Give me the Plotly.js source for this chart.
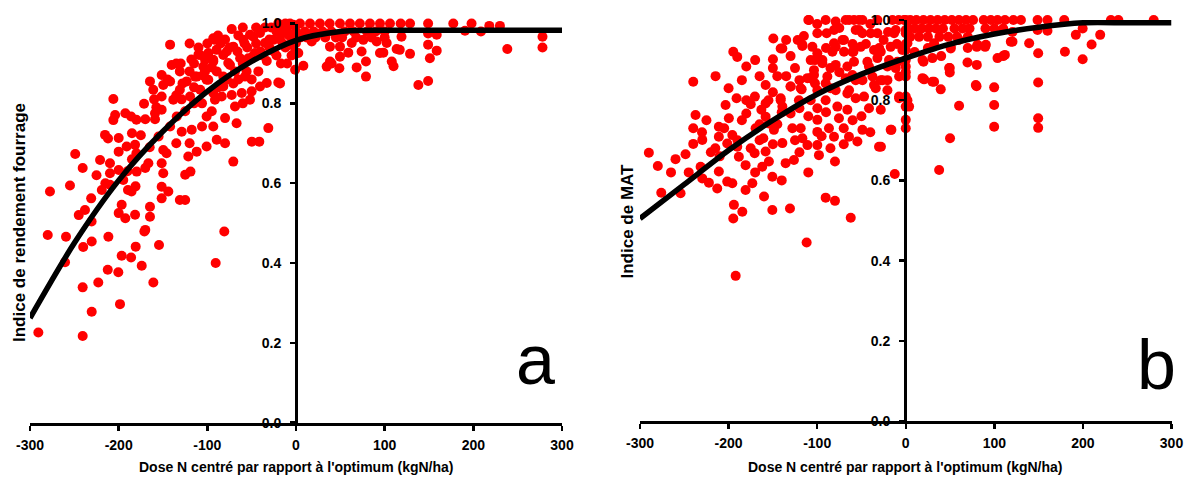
<!DOCTYPE html>
<html>
<head>
<meta charset="utf-8">
<script src="https://cdn.plot.ly/plotly-3.0.1.min.js"></script>
<style>html,body{margin:0;padding:0;background:#fff;}#chart{width:1186px;height:479px;}</style>
</head>
<body>
<div id="chart"></div>
<script>
// ---- Panel a : Indice de rendement fourrage ----
const ptsA = [
[-290.6,0.226],[-280,0.47],[-277.5,0.579],[-259.4,0.466],[-260.5,0.402],[-254.9,0.594],[-249,0.673],[-240.6,0.638],[-240,0.44],[-240.6,0.339],[-240.6,0.217],[-238,0.533],[-231,0.562],[-230.5,0.504],[-230.4,0.454],[-230.4,0.278],[-223,0.351],[-221,0.658],[-219,0.583],[-215.4,0.721],[-212,0.712],[-211.6,0.466],[-212.3,0.383],[-209.8,0.65],[-209.8,0.625],[-209.8,0.596],[-206,0.811],[-204,0.771],[-206,0.758],[-200,0.713],[-200,0.679],[-200,0.633],[-200,0.525],[-200.4,0.377],[-198.5,0.297],[-196.6,0.418],[-196.6,0.546],[-194.8,0.608],[-192.5,0.512],[-192.5,0.775],[-191,0.692],[-189.5,0.583],[-186,0.767],[-186,0.414],[-185.5,0.579],[-185,0.725],[-181.5,0.696],[-181.5,0.521],[-181,0.592],[-180.8,0.441],[-180,0.759],[-180,0.675],[-179.7,0.629],[-174,0.393],[-171.4,0.799],[-171,0.479],[-170,0.638],[-170,0.483],[-166.5,0.65],[-164.7,0.855],[-164.7,0.541],[-164.7,0.516],[-161,0.834],[-160.9,0.351],[-159,0.775],[-159,0.76],[-157.5,0.79],[-155,0.717],[-154.5,0.445],[-151.5,0.871],[-149.7,0.846],[-151.5,0.817],[-151.5,0.784],[-149.7,0.683],[-151.5,0.65],[-149.7,0.625],[-151.5,0.591],[-151.5,0.562],[-146,0.675],[-144,0.579],[-142,0.947],[-140.2,0.896],[-142,0.855],[-138.4,0.809],[-142,0.742],[-134.5,0.767],[-131,0.88],[-131,0.834],[-129,0.81],[-128.9,0.729],[-131,0.558],[-125,0.558],[-125,0.621],[-123.3,0.855],[-121.5,0.667],[-119,0.629],[-119.5,0.817],[-117.6,0.734],[-113.9,0.867],[-112,0.679],[-112,0.867],[-110,0.922],[-108,0.834],[-108,0.921],[-106,0.8],[-106,0.742],[-104.5,0.892],[-102.6,0.909],[-102.6,0.88],[-100.8,0.859],[-100.8,0.767],[-100.8,0.692],[-98.9,0.926],[-98.9,0.859],[-93.3,0.905],[-93.3,0.963],[-93.3,0.909],[-93.3,0.826],[-93.3,0.742],[-91.4,0.959],[-89.6,0.934],[-91.4,0.809],[-90.6,0.4],[-89.4,0.88],[-89.4,0.709],[-82,0.867],[-82,0.921],[-82,0.842],[-83.8,0.817],[-80,0.763],[-80,0.7],[-80.9,0.479],[-76.4,0.901],[-74.4,0.896],[-72.5,0.986],[-72.5,0.821],[-70.7,0.942],[-70.7,0.85],[-70.7,0.654],[-68.8,0.88],[-68.8,0.792],[-67,0.75],[-63,0.913],[-61.2,0.826],[-59.4,0.959],[-57.5,0.867],[-55.7,0.88],[-53.8,0.913],[-51.9,0.809],[-51.9,0.972],[-50,0.83],[-48.1,0.967],[-49.8,0.704],[-46.2,0.926],[-42.5,0.88],[-41.4,0.704],[-40.6,0.842],[-40.6,0.976],[-35,0.951],[-33,0.906],[-33,0.851],[-31.2,0.738],[-25.6,0.959],[-20,0.852],[-14.3,0.984],[-14.3,0.976],[-6.8,0.947],[-6.8,0.997],[-3,0.997],[-1,0.884],[-1,0.93],[-18,0.85],
[-120,0.95],[-115,0.9],[-85,0.95],[-78,0.93],[-65,0.97],[-55,0.94],[-45,0.95],[-38,0.92],[-30,0.94],[-28,0.99],[-22,0.92],[-18,0.96],[-12,0.94],[-10,0.9],[-8,0.97],[-20,1.0],[-35,0.99],[-45,0.99],[-60,0.99],[-12,1.0],[-2,0.96],[-95,0.89],[-120,0.88],[-135,0.9],[-145,0.86],[-128,0.85],[-115,0.84],[-105,0.87],[-60,0.9],[-25,0.93],[-17,0.9],
[-130,0.9],[-118,0.91],[-110,0.94],[-100,0.95],[-88,0.97],[-80,0.96],[-75,0.94],[-66,0.93],[-58,0.95],[-48,0.92],[-40,0.93],[-30,0.96],[-22,0.98],[-15,0.95],[-5,0.92],[-50,0.86],[-65,0.86],[-78,0.86],[-88,0.84],[-115,0.8],[-125,0.78],[-135,0.82],[-160,0.81],[-170,0.76],[-175,0.72],[-165,0.69],[-185,0.66],[-190,0.63],[-215,0.6],[-225,0.62],[-245,0.52],[-135,0.7],[-120,0.7],[-95,0.78],[-60,0.8],
[0.8,0.926],[8.3,0.894],[2.6,0.926],[0,0.951],[17.7,0.955],[34.6,0.892],[38.3,0.905],[38.3,0.942],[40.2,0.9],[48.9,0.888],[49.6,0.917],[49.6,0.942],[59,0.927],[62.8,0.951],[68.4,0.89],[74,0.93],[75.9,0.959],[78.9,0.867],[78.9,0.905],[91,0.955],[94.7,0.926],[98.5,0.927],[102.3,0.951],[108,0.905],[110,0.893],[113.5,0.936],[117,0.934],[118,1.0],[119,0.967],[128.6,0.924],[128.6,1.0],[138,0.846],[149,0.856],[151,0.913],[149,0.947],[158.7,0.932],[158.7,0.972],[149,1.0],[149,0.975],[177.4,1.0],[190.6,0.982],[198,1.0],[208.6,0.98],[218,0.994],[230,0.994],[238.3,0.936],[278,0.967],[278,0.94],
[-6.8,1.0],[4.5,1.0],[15.8,1.0],[27,1.0],[38,1.0],[49.6,1.0],[60.9,1.0],[72,1.0],[83.4,1.0],[94.7,1.0],[106,1.0],
[-10,0.98],[0,0.98],[10,0.98],[20,0.98],[30,0.98],[40,0.98],[55,0.98],[65,0.98],[80,0.98],[90,0.98],[100,0.98],
[-5,0.965],[5,0.965],[12,0.965],[22,0.965],[33,0.965],[45,0.965],[52,0.965],[68,0.965],[85,0.965],[100,0.965]
];
const curveAx = [-300,-250,-200,-150,-100,-50,0,50,100,150,200,250,300];
const curveAy = [0.262,0.45,0.607,0.73,0.83,0.905,0.958,0.98,0.983,0.983,0.983,0.983,0.983];

// ---- Panel b : Indice de MAT ----
const ptsB = [
[-290,0.669],[-279.9,0.636],[-276,0.569],[-259.9,0.653],[-254.2,0.568],[-248.6,0.665],[-239.9,0.846],[-237.3,0.763],[-239.9,0.73],[-239.9,0.691],[-229.7,0.701],[-231.6,0.634],[-229.7,0.605],[-222.2,0.594],[-214.7,0.86],[-211,0.622],[-211,0.709],[-211,0.734],[-203.4,0.788],[-199.7,0.755],[-195.8,0.713],[-201.5,0.692],[-201.5,0.597],[-212.8,0.58],[-195.8,0.593],[-194,0.539],[-194.7,0.505],[-184.5,0.522],[-194.7,0.921],[-190.2,0.908],[-180,0.884],[-191,0.805],[-180,0.8],[-180,0.767],[-190.2,0.684],[-188.4,0.659],[-180.8,0.638],[-180.8,0.576],[-173.2,0.593],[-170.3,0.809],[-169.5,0.73],[-170.6,0.668],[-162,0.634],[-163,0.776],[-158.2,0.838],[-158.2,0.792],[-158.2,0.759],[-154.5,0.742],[-160.8,0.705],[-158.2,0.672],[-154.5,0.647],[-150.6,0.609],[-150.6,0.526],[-149.5,0.954],[-149.9,0.902],[-141.2,0.929],[-148.8,0.726],[-139.3,0.693],[-141.2,0.8],[-139.3,0.784],[-135.6,0.643],[-130.7,0.53],[-130,0.834],[-130,0.767],[-128,0.73],[-126.2,0.651],[-120.6,0.8],[-118.6,0.73],[-116.7,0.705],[-116.7,0.938],[-117.5,0.827],[-111,0.688],[-110,1.0],[-108,0.855],[-105.4,0.933],[-102.5,0.9],[-103.6,0.875],[-102.5,0.842],[-99.8,0.967],[-99.8,0.78],[-99.8,0.751],[-99.8,0.721],[-99.8,0.688],[-98,0.663],[-90.4,1.0],[-89.3,0.967],[-94.1,0.9],[-90.4,0.842],[-90.4,0.8],[-86.7,0.73],[-81,0.709],[-79.9,0.647],[-90.4,0.557],[-79.9,0.549],[-62.1,0.507],[-81,0.975],[-79.1,0.933],[-79.1,0.888],[-79.1,0.825],[-77.2,0.784],[-75.4,0.755],[-69.7,0.95],[-67.8,1.0],[-67.8,0.855],[-65.9,0.817],[-65.9,0.776],[-64.1,0.709],[-59.1,0.921],[-58.4,1.0],[-58.4,0.896],[-56.5,0.85],[-54.6,0.697],[-52.8,0.975],[-48.9,0.726],[-47.1,0.809],[-41.5,0.884],[-41.5,0.78],[-35.8,0.925],[-35.8,0.838],[-30.2,0.684],[-28.2,0.776],[-26.3,0.85],[-20.7,0.825],[-17,0.726],[-12.4,0.616],[-13.2,0.967],[-32,1.0],[-111.9,0.445],[-192,0.362],
[-109.2,1.0],[-79.1,0.996],[-64,1.0],[-52.8,1.0],[-48.9,1.0],[-15,1.0],[-8,1.0],[-2,1.0],[-81,0.942],[-71.5,0.95],[-56.5,0.975],[-48.9,0.967],[-39.5,0.967],[-32,0.967],[-11.3,0.975],[0,0.975],[-116.7,0.935],[-99.8,0.917],[-82.8,0.921],[-69.7,0.921],[-50.8,0.933],[-28.2,0.921],[-17,0.933],[-3.8,0.925],[-139.3,0.929],[-107.3,0.9],[-94.1,0.892],[-65.9,0.884],[-43.3,0.896],[-32,0.905],[-20.7,0.884],[-9.4,0.896],[-103.6,0.863],[-88.5,0.859],[-60.2,0.863],[-48.9,0.85],[-37.6,0.859],[-28.2,0.85],[-7.5,0.859],[-111,0.855],[-130,0.834],[-118.6,0.83],[-99.8,0.825],[-64,0.825],[-33.9,0.83],[-7.5,0.809],[-141.2,0.805],[-107.3,0.8],[-56.5,0.805],[1.9,0.8],
[-75,0.87],[-85,0.83],[-45,0.94],[-25,0.95],[-60,0.94],[-90,0.93],[-125,0.88],[-122,0.95],[-135,0.86],[-145,0.86],[-150,0.82],[-145,0.74],[-165,0.7],[-175,0.68],[-120,0.78],[-110,0.76],[-140,0.77],[-125,0.7],[-90,0.77],[-70,0.73],[-60,0.75],[-50,0.76],[-40,0.72],[-170,0.62],[-140,0.6],[-110,0.62],[-85,0.68],[-160,0.56],[-210,0.66],[-220,0.67],[-185,0.75],[-175,0.79],[-205,0.73],[-225,0.75],[-150,0.69],[-120,0.67],
[-200,0.83],[-185,0.85],[-165,0.86],[-150,0.88],[-130,0.91],[-115,0.96],[-100,0.99],[-75,0.98],[-40,0.99],[-20,0.97],[-135,0.95],[-170,0.9],[-230,0.72],[-245,0.62],[-265,0.62],[-215,0.68],[-190,0.7],[-165,0.74],[-155,0.8],[-95,0.71],[-70,0.69],[-120,0.85],[-85,0.88],[-60,0.92],[-30,0.93],[-10,0.94],
[-16.2,0.726],[-28,0.684],[0,0.809],[0,0.784],[0,0.751],[0,0.73],[-7.5,0.805],[3.8,0.784],[0,0.859],[0,0.884],[0,0.925],[0,0.967],[0,1.0],[0,0.9],[0,0.94],[0,0.87],[-20.7,0.85],[-11.3,0.88],[-18.9,0.9],[20.7,0.852],[30.1,0.846],[39.5,0.827],[20,0.896],[30.1,0.905],[49.7,0.88],[49.7,0.869],[69.7,0.894],[80.2,0.888],[79.9,0.835],[60.2,0.786],[50,0.705],[37.7,0.626],[99.8,0.832],[99.8,0.788],[99.8,0.734],[103.6,0.905],[111.9,0.913],[120.5,0.946],[120.5,0.97],[89.6,0.933],[80.2,0.933],[50.8,0.933],[139.3,0.942],[149.5,0.917],[149.5,0.844],[149.5,0.755],[149.5,0.731],[148.8,0.975],[148.8,1.0],[160,1.0],[160,0.973],[178.9,1.0],[179.7,0.921],[192,0.963],[199.7,0.979],[199.7,0.902],[209.8,0.939],[219.5,0.963],[231.6,1.0],[240,1.0],[279.9,1.0],[130,1.0],[121.5,1.0],[103.6,1.0],[88,1.0],
[5,1.0],[12,1.0],[20,1.0],[28,1.0],[36,1.0],[44,1.0],[52,1.0],[60,1.0],[68,1.0],[76,1.0],[96,1.0],[112,1.0],
[3,0.979],[10,0.979],[18,0.979],[26,0.979],[34,0.979],[42,0.979],[55,0.979],[64,0.979],[72,0.979],[90,0.979],[100,0.979],[110,0.979],
[5,0.958],[15,0.958],[25,0.958],[38,0.958],[48,0.958],[58,0.958],[70,0.958],
[1.9,0.942],[32,0.942],[50.8,0.929],[81,0.938],[90.4,0.938],[118.6,0.946],[18.9,0.9],[40,0.91],[110,0.91],[49,0.88],[18.9,0.855],[32,0.846],[79.1,0.838],[10,0.92],[25,0.93],[60,0.95],[70,0.93]
];
const curveBx = [-300,-250,-200,-150,-100,-50,0,50,100,150,200,250,300];
const curveBy = [0.505,0.59,0.675,0.75,0.815,0.865,0.905,0.94,0.965,0.982,0.993,0.993,0.993];

const xTicks = [-300,-200,-100,0,100,200,300];
const yTicks = [0,0.2,0.4,0.6,0.8,1.0];
const xTitle = "Dose N centré par rapport à l'optimum (kgN/ha)";
const yTitleA = "Indice de rendement fourrage";
const yTitleB = "Indice de MAT";

const FONT = "'Liberation Sans', Arial, sans-serif";
const RED = '#ff0000';

function scatter(pts, xa, ya) {
  return {x: pts.map(p=>p[0]), y: pts.map(p=>p[1]), xaxis: xa, yaxis: ya,
    type:'scatter', mode:'markers', cliponaxis:false,
    marker:{color:RED, size:10, line:{width:0}}, hoverinfo:'skip', showlegend:false};
}
function curve(xs, ys, xa, ya) {
  return {x: xs, y: ys, xaxis: xa, yaxis: ya, type:'scatter', mode:'lines', cliponaxis:false,
    line:{color:'#000', width:5.5, shape:'spline', smoothing:0.8}, hoverinfo:'skip', showlegend:false};
}

const xdomA = [30/1186, 562/1186];
const xdomB = [640/1186, 1171.5/1186];
const ydomA = [(479-422.7)/479, (479-23.5)/479];
const ydomB = [(479-421)/479, (479-20)/479];

function xax(dom, yanchor) {
  return {domain: dom, range:[-300,300], anchor: yanchor, tickvals: xTicks, ticktext: xTicks.map(String),
    showgrid:false, zeroline:false, showline:true, linecolor:'#000', linewidth:3,
    ticks:'outside', ticklen:5, tickwidth:2.5, tickcolor:'#000',
    tickfont:{family:FONT, size:14, color:'#000', weight:'bold'}, ticklabelstandoff:2, fixedrange:true};
}
function yax(dom, pos) {
  return {domain: dom, range:[0,1], anchor:'free', position: pos, tickvals: yTicks, ticktext: yTicks.map(v=>v.toFixed(1)),
    showgrid:false, zeroline:false, showline:true, linecolor:'#000', linewidth:3,
    ticks:'outside', ticklen:5, tickwidth:2.5, tickcolor:'#000',
    tickfont:{family:FONT, size:14, color:'#000', weight:'bold'}, ticklabelstandoff:6, fixedrange:true};
}

const data = [
  scatter(ptsA,'x','y'), curve(curveAx, curveAy,'x','y'),
  scatter(ptsB,'x2','y2'), curve(curveBx, curveBy,'x2','y2')
];

const layout = {
  width:1186, height:479, margin:{l:0,r:0,t:0,b:0},
  paper_bgcolor:'#fff', plot_bgcolor:'rgba(0,0,0,0)',
  font:{family:FONT, color:'#000'},
  showlegend:false,
  xaxis: xax(xdomA,'y'),
  yaxis: yax(ydomA, 296/1186),
  xaxis2: xax(xdomB,'y2'),
  yaxis2: yax(ydomB, 905/1186),
  annotations: [
    {text:xTitle, xref:'paper', yref:'paper', x:(xdomA[0]+xdomA[1])/2, y:(479-467)/479, xanchor:'center', yanchor:'middle', showarrow:false, font:{family:FONT, size:14, weight:'bold', color:'#000'}},
    {text:xTitle, xref:'paper', yref:'paper', x:(xdomB[0]+xdomB[1])/2, y:(479-467)/479, xanchor:'center', yanchor:'middle', showarrow:false, font:{family:FONT, size:14, weight:'bold', color:'#000'}},
    {text:yTitleA, xref:'paper', yref:'paper', x:19/1186, y:(479-223)/479, xanchor:'center', yanchor:'middle', textangle:-90, showarrow:false, font:{family:FONT, size:17, weight:'bold', color:'#000'}},
    {text:yTitleB, xref:'paper', yref:'paper', x:627/1186, y:(479-221.5)/479, xanchor:'center', yanchor:'middle', textangle:-90, showarrow:false, font:{family:FONT, size:17, weight:'bold', color:'#000'}},
    {text:'a', xref:'paper', yref:'paper', x:535/1186, y:(479-360)/479, xanchor:'center', yanchor:'middle', showarrow:false, font:{family:FONT, size:70, color:'#000'}},
    {text:'b', xref:'paper', yref:'paper', x:1156/1186, y:(479-365)/479, xanchor:'center', yanchor:'middle', showarrow:false, font:{family:FONT, size:70, color:'#000'}}
  ]
};

Plotly.newPlot('chart', data, layout, {staticPlot:true, displayModeBar:false});
</script>
</body>
</html>
